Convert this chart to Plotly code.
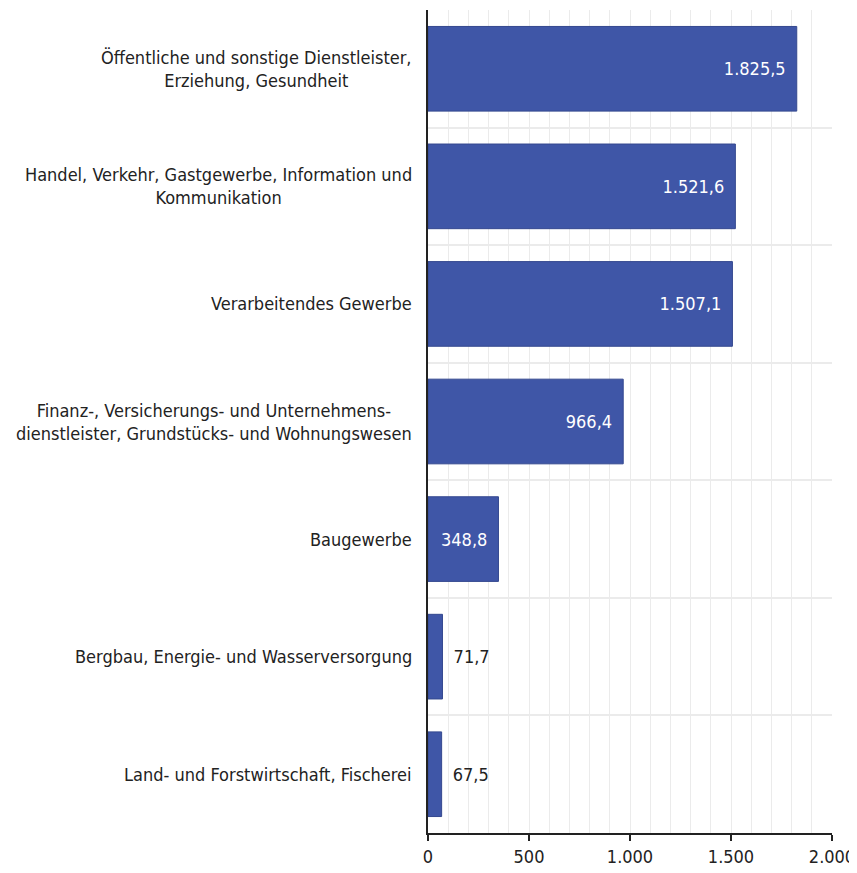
import plotly.graph_objects as go

# Erwerbstätige nach Wirtschaftsbereichen (in 1.000)
categories = [
    "Öffentliche und sonstige Dienstleister,<br>Erziehung, Gesundheit",
    "Handel, Verkehr, Gastgewerbe, Information und<br>Kommunikation",
    "Verarbeitendes Gewerbe",
    "Finanz-, Versicherungs- und Unternehmens-<br>dienstleister, Grundstücks- und Wohnungswesen",
    "Baugewerbe",
    "Bergbau, Energie- und Wasserversorgung",
    "Land- und Forstwirtschaft, Fischerei",
]
values = [1825.5, 1521.6, 1507.1, 966.4, 348.8, 71.7, 67.5]

x_ticks = [0, 500, 1000, 1500, 2000]

FONT = "DejaVu Sans Condensed, sans-serif"
FS = 18
BAR_COLOR = "#3f56a7"
GRID = "#ebebeb"
TXT = "#222222"

fig = go.Figure(
    go.Bar(
        x=values,
        y=categories,
        orientation="h",
        marker=dict(color=BAR_COLOR, line=dict(color="#34488f", width=1)),
        # en-spaces give the value labels some room from the bar end
        texttemplate="\u2002%{x:,.1f}\u2002",
        textposition="auto",
        insidetextanchor="end",
        insidetextfont=dict(color="white", size=FS, family=FONT),
        outsidetextfont=dict(color=TXT, size=FS, family=FONT),
        cliponaxis=False,
    )
)

# category labels as centred multi-line annotations left of the axis
for cat in categories:
    fig.add_annotation(
        x=0, xref="paper", xanchor="right", xshift=-14,
        y=cat, yref="y",
        text=cat, showarrow=False, align="center",
        font=dict(family=FONT, size=FS, color=TXT),
    )

# the page body adds an 8px margin, so the figure is 8px smaller than the window
fig.update_layout(
    width=849, height=865,
    margin=dict(l=420, r=25, t=2, b=40),
    paper_bgcolor="white", plot_bgcolor="white",
    separators=",.",
    bargap=0.28,
    showlegend=False,
    font=dict(family=FONT, size=FS, color=TXT),
)
fig.update_xaxes(
    range=[0, 2000],
    tickvals=x_ticks,
    tickformat=",d",
    automargin=False,
    showgrid=True, gridcolor=GRID, gridwidth=1,
    minor=dict(dtick=100, showgrid=True, gridcolor=GRID, gridwidth=1),
    showline=True, linecolor=TXT, linewidth=2,
    ticks="outside", ticklen=6, tickcolor=TXT, tickwidth=2,
    zeroline=False,
    tickfont=dict(family=FONT, size=FS, color=TXT),
)
fig.update_yaxes(
    autorange="reversed",
    automargin=False,
    showticklabels=False,
    tickson="boundaries",
    showgrid=True, gridcolor=GRID, gridwidth=2,
    showline=True, linecolor=TXT, linewidth=2,
)

fig.write_html("out.html")
